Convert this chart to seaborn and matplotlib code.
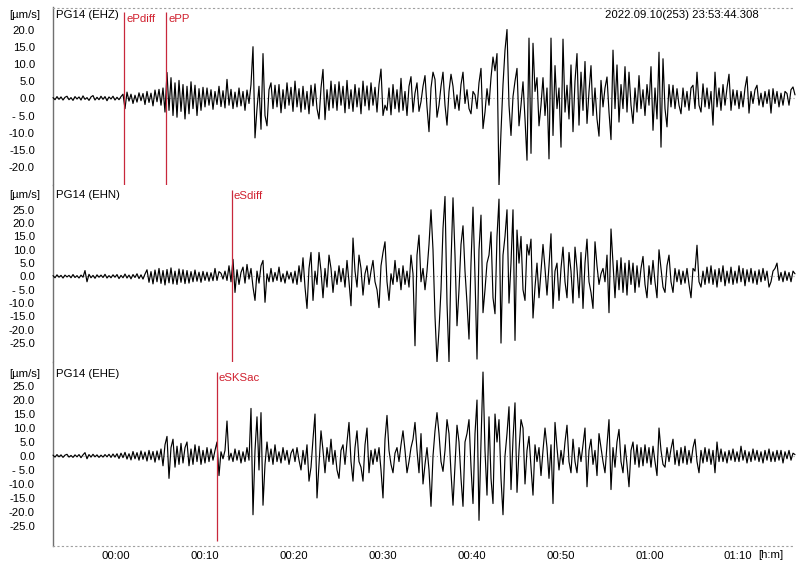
import numpy as np
import pandas as pd
import matplotlib.pyplot as plt
import seaborn as sns

# record window in minutes relative to the 00:00 tick
t_start, t_end = -7.09, 76.38

# ground velocity [um/s] at an even spacing
ehz = [0.2, -0.4, 0.5, -0.3, 0.4, -0.5, 0.3, 0.6, -0.4, 0.2, -0.6, 0.5, -0.2, 0.4, -0.5, 0.7, -0.3, 0.2,
       -0.6, 0.4, 0.8, -0.5, 0.3, -0.4, 0.6, -0.3, 0.5, -0.7, 0.4, -0.2, 0.6, -0.5, 0.3, -0.4, 0.5, 1.2,
       -3.0,
       1.8, -0.8, 1.2, -1.5, 0.9, -1.1, 1.6, -0.7, 1.4, -1.8, 2.0, -1.2, 1.5, -2.2, 2.4, -1.0, 2.6, -2.0, 3.0,
       -4.0, 7.5, -3.5,
       6.0, -5.0, 4.5, -5.5, 5.2, -3.8, 4.0, -6.0, 3.5, -4.5, 4.8, -3.0, 3.8, -5.0, 2.8, -3.5, 3.2,
       -2.5, 3.0, -2.0, 2.5, -3.2, 2.0, -1.8, 3.5, -2.4, 2.2, -2.8, 5.5, -2.0, 2.6, -3.0, 1.8, -2.5, 3.0,
       -2.2, 2.0, -3.5, 2.4, -1.5,
       4.0, 15.0, -11.5, -3.0, 3.5, -9.0, 13.0, -5.0, -8.0, 2.5,
       4.5, -3.0, 3.8, -2.5, 4.0, -4.2, 2.5, -3.0, 4.5, -2.0,
       3.2, -3.8, 5.0, -2.5, 2.8, -4.0, 3.5, -3.2, 2.0, -4.5,
       3.8, -2.2, 4.2, -3.0, -6.0, 3.0, 8.4, -6.2, 2.5, -3.5,
       5.0, -2.8, 4.0, -3.5, 4.8, -2.0, 3.5, -4.2, 5.2, -3.0,
       2.5, -3.8, 4.0, -2.5, 3.0, -4.5, 5.0, -2.2, 3.6, -3.4,
       4.5, -2.0, 3.2, -4.0, 4.0, 8.5, -5.0,
       -2.0, -3.5, 3.0, -4.8, 4.0, -3.0, 2.5, -4.0, 5.8, -3.5,
       2.0, -5.0, 3.5, 6.3, -4.0, 1.5, 4.5, -3.8, -1.0, 3.5,
       6.6, -2.5, -9.7, 3.0, 7.6, 5.5, -5.5, -2.0, 3.5, 7.6,
       -2.0, -7.8, 2.0, 7.0, 3.5, -3.0, 1.0, -3.5, 4.0, 7.6,
       -1.5, 2.5, -3.0, -4.5, 2.0, 1.0, -3.0, 4.5, 8.7, -8.8,
       -4.0, 2.8, -2.0, 6.0, 12.0, 8.0, 13.0, -25.4, -9.7, 4.0,
       14.0, 20.0, -2.0, -10.8, 0.5, 5.0, 8.7, -8.0, -2.0, 4.8,
       -6.0, -18.0, 17.5, -16.0, 16.0, 2.0, 6.0, -8.0, -2.0, 6.0,
       -5.0, 3.0, -17.6, 17.5, -10.8, 9.5, -3.0, 3.0, -14.2, 17.2,
       -4.0, 3.8, -6.0, 9.7, -9.7, 5.0, 13.0, -7.8, 7.6, -3.5,
       10.7, -7.3, 2.0, 9.5, -5.0, 3.0, -6.0, -11.0, 5.2, -2.5,
       3.0, 6.2, -4.0, -12.0, 14.0, -3.0, 9.7, -6.9, 4.0, -3.0,
       9.2, -4.0, 7.6, -2.0, -7.3, 3.0, -4.0, 6.6, -3.0, 2.5,
       -5.0, 4.0, -2.0, 9.2, -9.3, 3.0, -6.0, 13.4, -14.2, 11.5,
       -3.0, -8.3, 4.0, -2.5, 3.8, -3.0, 2.8, -2.0, -4.5, 3.0,
       -2.5, 2.0, -3.5, 3.0, 3.8, -3.0, 7.6, -2.0, -4.0, 4.2,
       -2.5, 3.0, -3.0, 2.0, -7.8, 7.6, -2.5, 3.0, -3.5, 4.0,
       -2.0, 3.0, 7.0, -3.5, 2.5, -2.0, 2.3, -3.0, 2.0, -2.5,
       3.0, 6.3, -4.3, 2.0, -1.5, 2.5, 3.8, -2.0, 1.5, -2.5,
       2.0, -1.5, 2.5, -4.3, 2.8, -1.5, 2.0, -2.5, 1.5, -2.0,
       2.0, 1.4, -2.0, 2.5, 3.3, 1.0]

ehn = [0.3, -0.5, 0.6, -0.3, 0.4, -0.6, 0.5, -0.2, 0.4, -0.5,
       0.7, -0.4, 0.3, -0.6, 0.5, -0.3, 2.2, -2.0, 0.8, -0.5,
       0.4, -0.7, 0.6, -0.3, 0.5, -0.4, 0.8, -0.6, 0.3, -0.5,
       0.6, -0.3, 0.7, -0.8, 0.4, -0.5, 0.9, -0.6, 0.5, -0.9,
       0.7, -0.4, 1.0, -0.8, 0.6, -1.0, 0.9,
       2.5, -2.2, 1.8, -2.8, 2.4, -2.0, 3.0, -2.6, 2.2, -3.2,
       2.6, -2.4, 3.2, -2.8, 2.0, -3.0, 2.8, -2.2, 2.5, -2.7,
       2.2, -2.5, 1.8, -2.0, 2.4, -1.8, 1.6, -2.2, 1.9, -1.5,
       1.6, -1.8, 1.4, -1.6, 3.0, -1.5, 1.8,
       1.2, -1.0, 2.0, -1.5, 4.0, -2.0,
       6.4, -6.0, 2.5, -3.0, 1.5, 3.5, -2.5, 4.5, -1.0, 3.0,
       -4.0, -9.0, 2.0, -2.5, 4.0, 6.0, -9.7, 1.0, -2.0, 3.0,
       -2.0, 1.5, -1.5, 3.5, -2.0, 1.0, -2.5, 2.0, -1.0, 1.5,
       -2.5, 2.0, -3.0, 4.0,
       -2.0, 7.0, -4.0, -12.0, 3.0, 9.0, -9.0, 2.0, -3.0, 9.0,
       2.0, -8.0, 3.0, -4.0, 8.0, 3.0, -6.0, 2.0, -3.0, 4.0,
       -2.0, 3.0, -4.0, 6.0, -2.0, -11.0, 14.4, 2.0, -4.0, 8.0,
       3.0, -7.0, 1.0, 4.0, -3.0, 2.0, 6.0, -2.0, -5.0, -11.7,
       4.0, 9.0, 13.0, -2.0, -9.0, 1.0, -3.0, 6.0, -2.0, 3.0,
       -5.0, 4.0, -3.0, 2.0, -4.0, 8.0, 1.0, -26.0, 8.0, 15.5,
       -2.0, 3.0, -5.0, 2.0, 12.0, 25.0, 10.0, -15.0, -32.0, -20.0,
       -5.0, 18.0, 30.0, -10.0, -32.0, 5.0, 29.5, 8.0, -18.5, -5.0,
       12.0, 19.0, 2.0, -10.0, -23.5, 5.0, 26.0, 0.0, -31.0, 10.0,
       23.0, -13.6, -5.0, 5.0, 8.0, 16.7, -8.0, -14.0, 15.0, 29.0,
       -25.0, 8.0, 15.0, 25.0, -10.0, 5.0, 25.0, -24.0, 17.4, 5.0,
       15.0, -5.0, -9.0, 12.0, 8.0, 14.0, -15.6, -4.0, 5.0, -8.0,
       2.0, 12.0, 3.0, -7.0, 4.0, 16.0, -12.0, 2.0, 5.0, -9.0,
       3.0, 11.0, -2.0, -8.0, 9.0, 2.0, -10.0, 11.0, 3.0, -8.0,
       9.0, -12.0, 5.0, 14.0, -2.0, -6.0, -12.0, 13.0, 4.0, -3.0,
       1.0, 3.0, -2.0, 8.0, -13.6, 17.8, 5.0, -8.0, 6.0, -5.0,
       7.0, -6.0, 5.0, -7.0, 6.0, -3.0, 5.0, -6.0, 4.0, -4.0,
       3.0, 7.5, -3.0, -8.0, 4.0, -3.0, 6.0, -2.0, -8.0, 10.0,
       3.0, -4.0, -6.0, 4.0, 8.0, -2.0, -6.0, 3.0, -2.0, 2.5,
       -3.0, 2.0, -2.5, 3.0, -3.0, -8.0, 3.0, 2.0, 11.7, -2.0,
       -4.0, 2.0, -3.0, 3.5, -2.5, 4.0, -3.0, 2.5, -4.0, 3.0,
       -2.0, 4.0, -3.5, 2.0, -2.5, 3.5, -3.0, 2.0, -2.5, 4.0,
       -2.0, 3.0, -3.5, 2.5, -2.0, 3.0, -2.5, 2.0, -3.0, 2.5,
       -2.0, 3.0, -1.5, 2.0, -4.0, -2.0, 2.0, 3.0, 5.0, -1.5,
       1.5, -2.0, 2.0, -1.5, 1.5, -2.0, 2.0, 1.0]

ehe = [0.3, -0.4, 0.5, -0.3, 0.4, -0.5, 0.3, 0.6, -0.4, 0.2,
       -0.5, 0.4, -0.3, 0.5, -0.6, 0.4, 1.2, -1.0, 0.5, -0.4,
       0.6, -0.3, 0.4, -0.5, 0.3, -0.4, 0.5, -0.3, 0.6, -0.5,
       0.7, -0.4, 0.8,
       -0.9, 1.0, -0.6, 1.3, -1.1, 0.8, -1.4, 1.6, -1.0, 1.2,
       -1.5, 1.8, -1.2, 1.4, -1.8, 2.0, -1.3, 1.6, -2.2, 1.8, -1.4,
       2.5, -3.5, 4.0, 7.0, -8.0, 3.0, 6.0, -4.0, 3.5, -3.0,
       4.5, -2.5, 3.0, 5.0, -3.5, 2.5, -3.0, 4.0, -2.0, 3.5,
       -3.0, 2.0, -2.5, 3.0, -2.0, 2.5, -1.5, 2.0,
       5.0, -7.0, 1.5, -1.0, 2.0, 12.5, -1.5, 1.0, -2.0, 2.5,
       -1.5, 2.0, -2.5, 1.5, -2.0, 3.0, -1.5, 17.0, -21.0,
       2.0, 14.0, -5.0, 15.5, -17.6, -3.0, 5.0, -2.0, 2.5, -3.0,
       4.0, -2.0, 1.5, -2.5, 3.0, -1.5, 2.0, -3.0, 1.0, 2.5,
       -2.0, 3.0, -1.5, -5.0,
       2.0, -3.0, 4.0, -9.0, -4.0, 6.0, 15.0, -15.0, -3.0, 9.0,
       2.0, -6.0, 3.0, -2.0, 6.0, -3.0, 2.0, -5.0, -8.0, 2.0,
       4.0, -3.0, 5.0, 12.0, -2.0, -9.0, 3.0, 9.0, -2.0, -4.0,
       -9.0, 4.0, 10.0, -6.0, 2.0, -3.0, 2.5, -2.0, 3.0, -5.0,
       -15.0, 6.0, 14.5, 2.0, -3.0, -6.0, 1.0, 3.0, -2.0,
       4.0, 9.0, 2.0, -6.0, -2.0, 3.0, 6.0, 12.0, 2.0, -6.0,
       8.0, -10.0, -3.0, 3.0, -5.0, -18.0, 0.0, 9.0, 15.5, 8.0,
       -2.0, -5.5, 2.0, 13.0, 8.0, -6.0, -17.6, -3.0, 11.0, 5.0,
       -8.0, -18.0, 5.0, 8.0, 13.0, -4.0, -17.0, 8.0, 20.0, -23.0,
       5.0, 30.0, 2.0, -14.0, 14.0, -8.0, -17.0, 15.0, 5.0, 13.0,
       -8.0, -21.0, 0.0, 8.0, 17.6, -12.0, 6.0, 19.0, -13.0, 2.0,
       13.0, 10.0, -10.0, 2.0, 7.0, -4.0, -14.0, 4.0, -2.0, 3.0,
       -7.0, 2.0, 10.0, 3.0, -8.0, 4.0, -17.0, 12.0, 3.0, -5.0,
       2.0, -3.0, 5.0, 11.0, -2.0, -6.0, 6.0, -2.0, -6.0, 3.0,
       -2.0, 4.0, 10.0, -11.0, 2.0, 6.0, -3.0, 2.0, -7.0, 8.0,
       3.0, -2.0, -6.0, 4.0, 13.0, -12.0, 3.0, -4.0, 5.0, 9.5,
       -2.0, -6.0, 4.0, -3.0, -11.0, 2.0, 5.0, -3.0, 4.0, -4.0,
       3.0, -3.5, 4.0, -2.5, 3.0, -4.0, 3.5, -2.0, -7.0, 10.0,
       2.0, -3.0, -4.0, 3.0, -2.0, 2.5, 6.0, -3.0, 2.0, -3.5,
       3.0, -2.5, 3.5, -3.0, 2.0, -2.5, 3.0, 6.0, -2.0, -6.0,
       2.0, -2.5, 3.0, -2.0, 2.5, -3.0, 2.0, -6.0, 5.0, -2.0,
       2.5, -2.0, 1.5, -2.5, 2.0, -1.5, 2.5, -2.0, 1.5, -2.0,
       3.5, -1.5, 2.0, -2.5, 1.5, -2.0, 2.5, -1.5, 2.0, -2.0,
       1.5, -2.5, 2.0, -1.5, 2.5, -2.0, 1.5, -2.0, 2.0, -1.5,
       2.0, -2.5, 1.5, -1.0, 2.0, -1.5, 1.0, 0.5]

channels = ["EHZ", "EHN", "EHE"]
y_ticks = [[20, 15, 10, 5, 0, -5, -10, -15, -20],
           [25, 20, 15, 10, 5, 0, -5, -10, -15, -20, -25],
           [25, 20, 15, 10, 5, 0, -5, -10, -15, -20, -25]]
y_limits = [(-25.2, 26.4), (-32.1, 34.3), (-32.0, 33.6)]

# phase picks per channel: (name, minutes)
picks = [[("ePdiff", 0.93), ("ePP", 5.66)],
         [("eSdiff", 13.07)],
         [("eSKSac", 11.38)]]

x_ticks = [0, 10, 20, 30, 40, 50, 60, 70]
x_labels = ["00:00", "00:10", "00:20", "00:30", "00:40", "00:50", "01:00", "01:10"]
start_stamp = "2022.09.10(253) 23:53:44.308"


def fmt_tick(v):
    if v == 0:
        return "0.0"
    if -10 < v < 0:
        return f"- {abs(v):.1f}"
    return f"{v:.1f}"


sns.set_style("white")
plt.rcParams["font.family"] = ["Liberation Sans", "DejaVu Sans"]
plt.rcParams["font.size"] = 8.2
plt.rcParams["text.color"] = "black"
plt.rcParams["xtick.color"] = "black"
plt.rcParams["ytick.color"] = "black"

fig = plt.figure(figsize=(8, 5.67), dpi=100)
W, H = 800, 567
# panel edges in pixels from the top
edges = [(7.5, 185), (185, 362), (362, 545.5)]
red = "#c8283c"

for k, (chan, trace) in enumerate(zip(channels, [ehz, ehn, ehe])):
    top, bot = edges[k]
    ax = fig.add_axes([53 / W, 1 - bot / H, 742 / W, (bot - top) / H])
    df = pd.DataFrame({"t": np.linspace(t_start, t_end, len(trace)), "v": trace})
    ax.axhline(0, color="#a0a0a0", lw=0.8, ls=(0, (1, 2)), zorder=1)
    sns.lineplot(data=df, x="t", y="v", ax=ax, color="black", lw=0.85,
                 estimator=None, sort=False, zorder=3)
    ax.lines[-1].set_clip_on(False)
    ax.set_xlim(t_start, t_end)
    ax.set_ylim(*y_limits[k])
    ax.set_xlabel("")
    ax.set_ylabel("")
    ax.set_yticks(y_ticks[k])
    ax.set_yticklabels([fmt_tick(v) for v in y_ticks[k]])
    ax.tick_params(axis="y", length=0, pad=13, labelsize=8.2)
    for s in ["top", "right", "bottom"]:
        ax.spines[s].set_visible(False)
    ax.spines["left"].set_color("#707070")
    ax.spines["left"].set_linewidth(1.0)

    ymin, ymax = y_limits[k]
    for name, t in picks[k]:
        line_top = {0: 12.5, 1: 190, 2: 372}[k]
        line_bot = {0: 185, 1: 362, 2: 541}[k]
        ax.vlines(t, ymin + (ymax - ymin) * (bot - line_bot) / (bot - top),
                  ymin + (ymax - ymin) * (bot - line_top) / (bot - top),
                  color=red, lw=0.9, zorder=4, clip_on=False)
        ax.text(t + 0.2, ymin + (ymax - ymin) * (bot - line_top - 6) / (bot - top), name,
                color="#d0202e", fontsize=8.2, ha="left", va="center")

    label_y = {0: 15, 1: 195, 2: 374}[k]
    fig.text(56 / W, 1 - label_y / H, f"PG14 ({chan})", ha="left", va="center")
    fig.text(9 / W, 1 - label_y / H, "[µm/s]", ha="left", va="center")

    if k == 0:
        ax.spines["top"].set_visible(True)
        ax.spines["top"].set_linestyle((0, (1, 3)))
        ax.spines["top"].set_color("#a0a0a0")
    if k == 2:
        ax.spines["bottom"].set_visible(True)
        ax.spines["bottom"].set_linestyle((0, (1, 3)))
        ax.spines["bottom"].set_color("#a0a0a0")
        ax.set_xticks(x_ticks)
        ax.set_xticklabels(x_labels)
        ax.tick_params(axis="x", length=0, pad=4, labelsize=8.2)
    else:
        ax.set_xticks([])

fig.text(605 / W, 1 - 15 / H, start_stamp, ha="left", va="center")
fig.text(771 / W, 1 - 555 / H, "[h:m]", ha="center", va="center")

fig.savefig("out.png", dpi=100)
